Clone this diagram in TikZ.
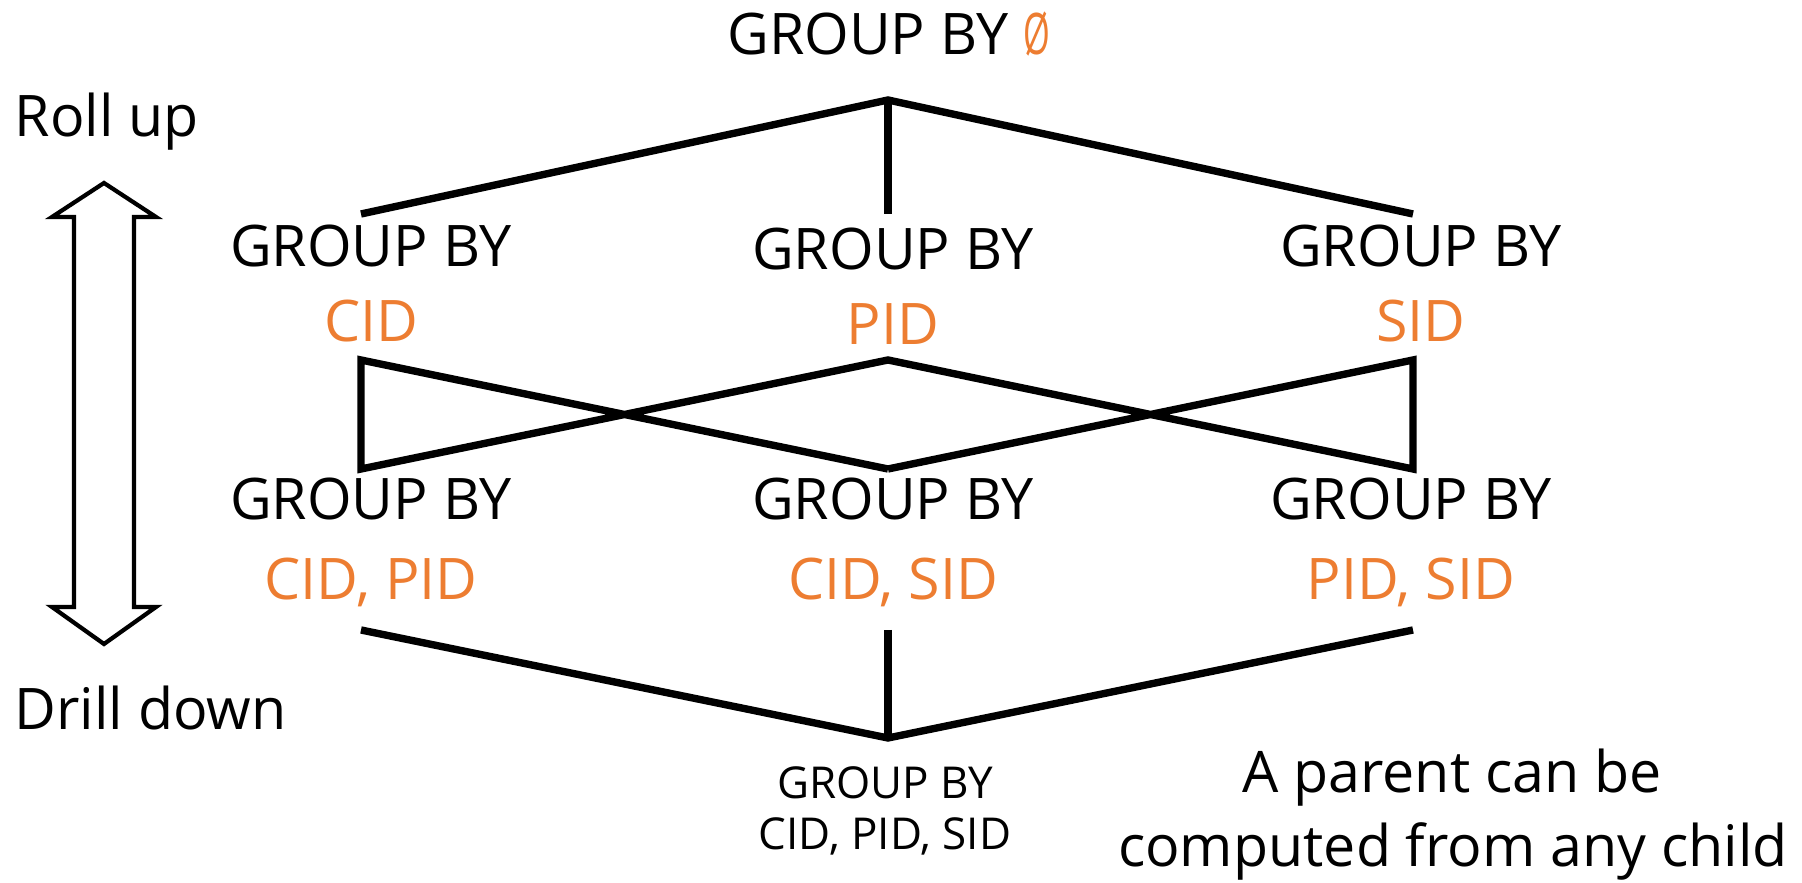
\documentclass[tikz,border=0pt]{standalone}
\usepackage{fontspec}
\setmainfont{Open Sans}
\definecolor{keyorange}{RGB}{237,125,49}
\begin{document}
\begin{tikzpicture}[x=0.01cm,y=-0.01cm,
  lbl/.style={anchor=base,inner sep=0pt,font=\fontsize{16.3}{19}\selectfont},
  key/.style={lbl,text=keyorange},
  small/.style={anchor=base,inner sep=0pt,font=\fontsize{12.5}{15}\selectfont},
  edge/.style={line width=2.1pt,line cap=butt,line join=miter},
  dblarrow/.style={line width=1.2pt,fill=white,line join=miter}]
\useasboundingbox (0,0) rectangle (1802,883);
% top
\node[lbl] (top) at (889,55) {GROUP BY \textcolor{keyorange}{\scalebox{0.6}[1]{Ø}}};
% level 2
\node[lbl] (g1) at (371,267) {GROUP BY};
\node[key] (k1) at (371,342) {CID};
\node[lbl] (g2) at (893,270) {GROUP BY};
\node[key] (k2) at (893,345) {PID};
\node[lbl] (g3) at (1421,267) {GROUP BY};
\node[key] (k3) at (1421,342) {SID};
% level 3
\node[lbl] (h1) at (371,520) {GROUP BY};
\node[key] (m1) at (371,600) {CID, PID};
\node[lbl] (h2) at (893,520) {GROUP BY};
\node[key] (m2) at (893,600) {CID, SID};
\node[lbl] (h3) at (1411,520) {GROUP BY};
\node[key] (m3) at (1411,600) {PID, SID};
% bottom
\node[small] (b1) at (885,799) {GROUP BY};
\node[small] (b2) at (885,850) {CID, PID, SID};
% notes
\node[lbl] (n1) at (1452,793) {A parent can be};
\node[lbl] (n2) at (1453,867) {computed from any child};
\node[lbl,anchor=base west] (roll) at (14,137) {Roll up};
\node[lbl,anchor=base west] (drill) at (14,730) {Drill down};
% anchor coordinates
\coordinate (apex) at (888,100);
\coordinate (t1) at (361,214);
\coordinate (t2) at (888,214);
\coordinate (t3) at (1413,214);
\coordinate (u1) at (361,360);
\coordinate (u2) at (888,360);
\coordinate (u3) at (1413,360);
\coordinate (l1) at (361,469);
\coordinate (l2) at (888,469);
\coordinate (l3) at (1413,469);
\coordinate (d1) at (361,630);
\coordinate (d2) at (888,630);
\coordinate (d3) at (1413,630);
\coordinate (bot) at (888,738);
% edges
\draw[edge] (t1) -- (apex) -- (t3);
\draw[edge] (apex) -- (t2);
\draw[edge] (l2) -- (u1) -- (l1) -- (u2) -- (l3) -- (u3) -- (l2);
\draw[edge] (d1) -- (bot) -- (d3);
\draw[edge] (d2) -- (bot);
% double arrow
\draw[dblarrow] (104,183) -- (156,217) -- (134,217) -- (134,607) -- (156,607)
  -- (104,644) -- (52,607) -- (74,607) -- (74,217) -- (52,217) -- cycle;
\end{tikzpicture}
\end{document}
